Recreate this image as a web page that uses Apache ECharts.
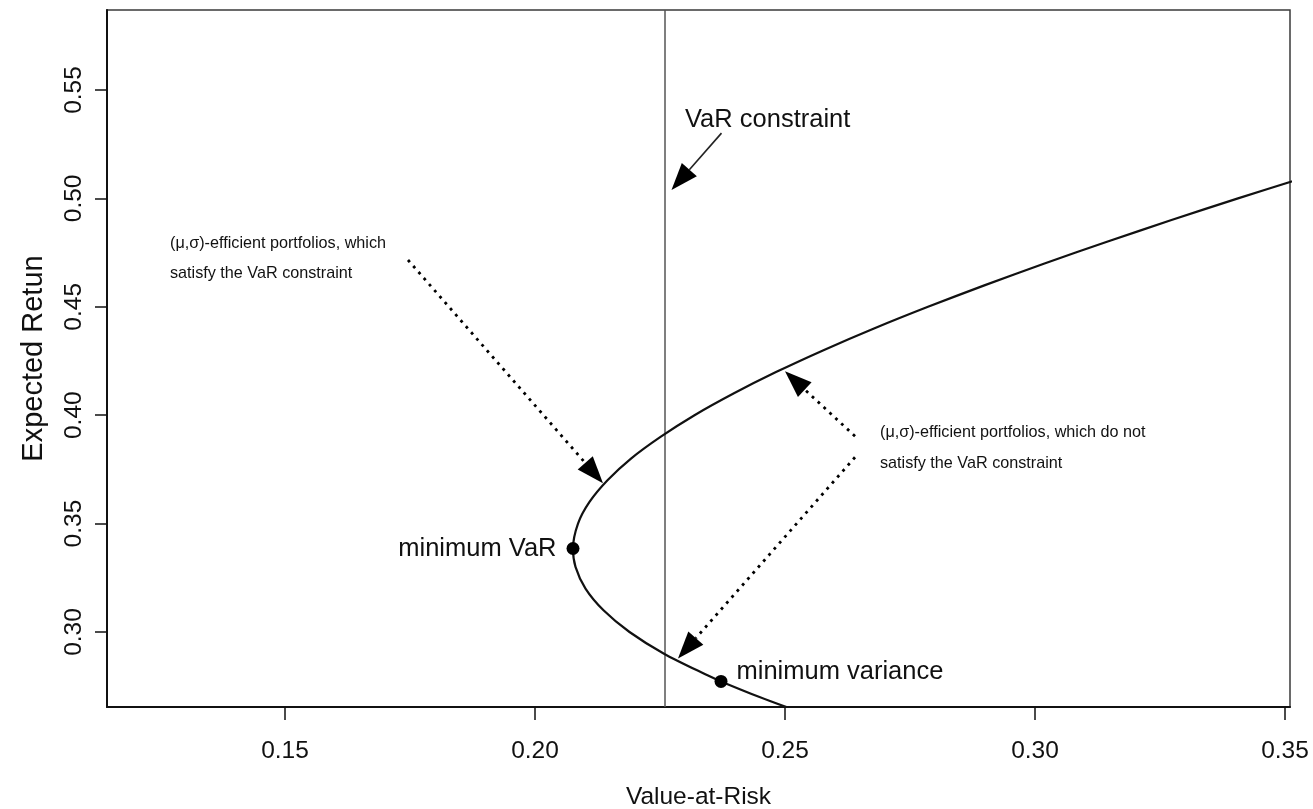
<!DOCTYPE html>
<html>
<head>
<meta charset="utf-8">
<script src="https://cdn.jsdelivr.net/npm/echarts@6/dist/echarts.min.js"></script>
<style>
  html, body { margin: 0; padding: 0; background: #fff; }
  #chart { width: 1313px; height: 809px; }
</style>
</head>
<body>
<div id="chart"></div>
<script>
// Axis ticks
const xTicks = [0.15, 0.20, 0.25, 0.30, 0.35];
const yTicks = [0.30, 0.35, 0.40, 0.45, 0.50, 0.55];

// Mean-VaR efficient frontier (expected return vs. Value-at-Risk)
const frontierReturn = [0.265, 0.27, 0.2772, 0.28, 0.29, 0.30, 0.31, 0.32, 0.33, 0.3385,
  0.35, 0.36, 0.37, 0.38, 0.39, 0.40, 0.41, 0.42, 0.43, 0.44, 0.45, 0.46, 0.47, 0.48,
  0.49, 0.50, 0.51];
const frontierVaR = [0.2507, 0.2449, 0.2372, 0.2345, 0.2258, 0.2189, 0.2137, 0.2101, 0.2081, 0.2076,
  0.2086, 0.2109, 0.2145, 0.2192, 0.2251, 0.2319, 0.2397, 0.2483, 0.2577, 0.2678, 0.2786, 0.2900,
  0.3019, 0.3144, 0.3273, 0.3406, 0.3543];

// Special portfolios
const pointNames = ['minimum VaR', 'minimum variance'];
const pointVaR = [0.2076, 0.2372];
const pointReturn = [0.3385, 0.2772];

// VaR limit
const varLimit = 0.226;

// Annotation arrows: from (VaR, return) to (VaR, return); dotted flag
const arrowFromVaR = [0.2373, 0.1746, 0.264, 0.264];
const arrowFromRet = [0.5301, 0.4716, 0.3903, 0.3806];
const arrowToVaR = [0.2273, 0.2136, 0.250, 0.2286];
const arrowToRet = [0.5039, 0.3686, 0.4203, 0.2878];
const arrowDotted = [0, 1, 1, 1];

// Annotation texts and their anchors (data coordinates)
const noteTexts = [
  'VaR constraint',
  '(\u03bc,\u03c3)-efficient portfolios, which\nsatisfy the VaR constraint',
  '(\u03bc,\u03c3)-efficient portfolios, which do not\nsatisfy the VaR constraint'
];
const noteVaR = [0.230, 0.127, 0.269];
const noteRet = [0.5360, 0.4859, 0.3991];

const xMin = 0.1144, xMax = 0.351;
const yMin = 0.2654, yMax = 0.5869;

const FONT = "'Liberation Sans', Arial, Helvetica, sans-serif";
const INK = '#111';

const chart = echarts.init(document.getElementById('chart'), null, { renderer: 'canvas' });

const tickFmt = v => Number(v).toFixed(2);

const arrowData = arrowFromVaR.map((v, i) => [v, arrowFromRet[i], arrowToVaR[i], arrowToRet[i], arrowDotted[i]]);

function renderArrow(params, api) {
  const p1 = api.coord([api.value(0), api.value(1)]);
  const p2 = api.coord([api.value(2), api.value(3)]);
  const dotted = api.value(4) === 1;
  const dx = p2[0] - p1[0], dy = p2[1] - p1[1];
  const len = Math.sqrt(dx * dx + dy * dy);
  const ux = dx / len, uy = dy / len;
  const headLen = 27, headHalf = 10;
  const bx = p2[0] - ux * headLen, by = p2[1] - uy * headLen;
  const px = -uy, py = ux;
  return {
    type: 'group',
    children: [
      {
        type: 'line',
        shape: { x1: p1[0], y1: p1[1], x2: bx, y2: by },
        style: dotted
          ? { stroke: '#000', lineWidth: 2.8, lineDash: [2.8, 5.2] }
          : { stroke: '#222', lineWidth: 1.6 }
      },
      {
        type: 'polygon',
        shape: { points: [[p2[0], p2[1]], [bx + px * headHalf, by + py * headHalf], [bx - px * headHalf, by - py * headHalf]] },
        style: { fill: '#000' }
      }
    ]
  };
}

chart.setOption({
  animation: false,
  backgroundColor: '#fff',
  textStyle: { fontFamily: FONT },
  grid: {
    left: 107, right: 23, top: 10, bottom: 102,
    outerBoundsMode: 'none',
    containLabel: false,
    show: true, borderColor: '#3a3a3a', borderWidth: 1.5, backgroundColor: 'transparent'
  },
  xAxis: {
    type: 'value', min: xMin, max: xMax,
    name: 'Value-at-Risk', nameLocation: 'middle', nameGap: 78,
    nameTextStyle: { fontSize: 24.5, color: INK, fontFamily: FONT },
    axisLine: { show: true, onZero: false, lineStyle: { color: '#111', width: 2 } },
    axisTick: { show: true, length: 13, customValues: xTicks, lineStyle: { color: '#111', width: 1.5 } },
    axisLabel: { show: true, customValues: xTicks, formatter: tickFmt, fontSize: 24.5, color: INK, margin: 32, fontFamily: FONT },
    splitLine: { show: false }
  },
  yAxis: {
    type: 'value', min: yMin, max: yMax,
    name: 'Expected Retun', nameLocation: 'middle', nameGap: 59, nameRotate: 90,
    nameTextStyle: { fontSize: 29, color: INK, fontFamily: FONT },
    axisLine: { show: true, onZero: false, lineStyle: { color: '#111', width: 2 } },
    axisTick: { show: true, length: 12, customValues: yTicks, lineStyle: { color: '#111', width: 1.5 } },
    axisLabel: { show: true, customValues: yTicks, formatter: tickFmt, rotate: 90, fontSize: 24.5, color: INK, margin: 20, fontFamily: FONT },
    splitLine: { show: false }
  },
  series: [
    {
      name: 'frontier',
      type: 'line',
      data: frontierVaR.map((v, i) => [v, frontierReturn[i]]),
      showSymbol: false,
      smooth: 0.3,
      clip: true,
      lineStyle: { color: '#111', width: 2.2 },
      z: 3
    },
    {
      name: 'VaR limit',
      type: 'line',
      data: [[varLimit, yMin], [varLimit, yMax]],
      showSymbol: false,
      lineStyle: { color: '#555', width: 1.5 },
      z: 2
    },
    {
      name: 'portfolios',
      type: 'scatter',
      symbol: 'circle',
      symbolSize: 13,
      itemStyle: { color: '#000', opacity: 1 },
      z: 5,
      data: pointNames.map((n, i) => ({
        name: n,
        value: [pointVaR[i], pointReturn[i]],
        label: i === 0
          ? { show: true, position: 'left', distance: 10, formatter: '{b}', fontSize: 25.5, color: INK, fontFamily: FONT }
          : { show: true, position: 'right', distance: 9, offset: [0, -9], formatter: '{b}', fontSize: 25.5, color: INK, fontFamily: FONT }
      }))
    },
    {
      name: 'arrows',
      type: 'custom',
      coordinateSystem: 'cartesian2d',
      renderItem: renderArrow,
      encode: { x: [0, 2], y: [1, 3] },
      data: arrowData,
      silent: true,
      z: 4
    }
  ]
});

// Annotation texts anchored in data space
const noteStyles = [
  { fontSize: 25.5, lineHeight: 30 },
  { fontSize: 16.2, lineHeight: 30 },
  { fontSize: 16.2, lineHeight: 31 }
];
const graphics = noteTexts.map((t, i) => {
  const p = chart.convertToPixel({ gridIndex: 0 }, [noteVaR[i], noteRet[i]]);
  return {
    type: 'text',
    x: p[0], y: p[1],
    silent: true,
    style: {
      text: t,
      fontFamily: FONT,
      fontSize: noteStyles[i].fontSize,
      lineHeight: noteStyles[i].lineHeight,
      fill: INK,
      textAlign: 'left',
      textVerticalAlign: i === 0 ? 'middle' : 'top'
    }
  };
});
chart.setOption({ graphic: graphics });
</script>
</body>
</html>
